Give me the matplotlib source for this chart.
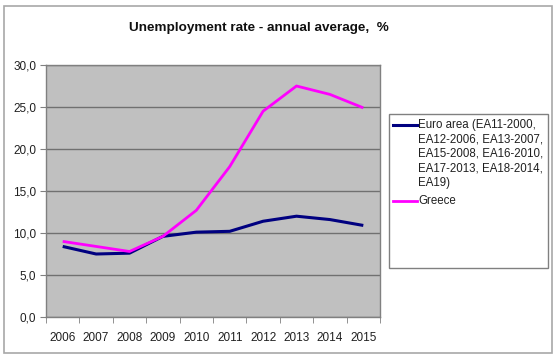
import matplotlib
matplotlib.use("Agg")
import matplotlib.pyplot as plt
import numpy as np
from matplotlib.patches import Rectangle
from matplotlib.lines import Line2D

years = ["2006", "2007", "2008", "2009", "2010", "2011", "2012", "2013", "2014", "2015"]
euro_area = [8.4, 7.5, 7.6, 9.6, 10.1, 10.2, 11.4, 12.0, 11.6, 10.9]
greece = [9.0, 8.4, 7.8, 9.6, 12.7, 17.9, 24.5, 27.5, 26.5, 24.9]
yticks = [0, 5, 10, 15, 20, 25, 30]
ytick_labels = ["0,0", "5,0", "10,0", "15,0", "20,0", "25,0", "30,0"]
euro_label = "Euro area (EA11-2000,\nEA12-2006, EA13-2007,\nEA15-2008, EA16-2010,\nEA17-2013, EA18-2014,\nEA19)"
greece_label = "Greece"
title = "Unemployment rate - annual average,  %"

plt.rcParams['font.family'] = ['Liberation Sans', 'DejaVu Sans']

W, H = 558, 363
fig = plt.figure(figsize=(W / 100, H / 100), dpi=100)

def fx(px):
    return px / W

def fy(py):
    return 1 - py / H

# outer border
fig.patches.append(Rectangle((fx(4), fy(353)), (552 - 4) / W, (353 - 6) / H,
                             transform=fig.transFigure, fill=False,
                             edgecolor="#a8a8a8", linewidth=1.2))

left, right, top, bottom = 46, 380, 65, 317
ax = fig.add_axes([fx(left), fy(bottom), (right - left) / W, (bottom - top) / H])
ax.set_facecolor("#c0c0c0")

x = np.arange(len(years))
euro_color = "#000080"
greece_color = "#ff00ff"
ax.plot(x, euro_area, color=euro_color, linewidth=2.2, solid_capstyle="butt", zorder=3)
ax.plot(x, greece, color=greece_color, linewidth=2.0, solid_capstyle="butt", zorder=3)

ax.set_xlim(-0.5, len(years) - 0.5)
ax.set_ylim(0, 30)
ax.set_yticks(yticks)
ax.set_yticklabels(ytick_labels, fontsize=8.5, color="#202020")
ax.set_xticks(x)
ax.set_xticklabels(years, fontsize=8.5, color="#202020")
ax.set_xticks(np.arange(-0.5, len(years), 1), minor=True)
ax.tick_params(axis="x", which="major", length=0, pad=11)
ax.tick_params(axis="x", which="minor", length=4, color="#808080", direction="out")
ax.tick_params(axis="y", which="major", length=4, color="#808080", direction="out", pad=3)
ax.yaxis.grid(True, color="#707070", linewidth=1.0)
ax.set_axisbelow(True)
for s in ax.spines.values():
    s.set_color("#808080")
    s.set_linewidth(1.0)

fig.text(fx(259), fy(28), title, ha="center", va="center",
         fontsize=9.7, fontweight="bold", color="#101010")

# legend box
lx0, lx1, ly0, ly1 = 389, 548, 114, 268
fig.patches.append(Rectangle((fx(lx0), fy(ly1)), (lx1 - lx0) / W, (ly1 - ly0) / H,
                             transform=fig.transFigure, fill=True, facecolor="white",
                             edgecolor="#808080", linewidth=1.0))
entries = [(euro_label, euro_color, 2.2, 124.5), (greece_label, greece_color, 2.0, 200.5)]
for label, color, lw, y0 in entries:
    fig.add_artist(Line2D([fx(393), fx(417)], [fy(y0), fy(y0)], color=color,
                          linewidth=lw, transform=fig.transFigure))
    for i, line in enumerate(label.split("\n")):
        fig.text(fx(418), fy(y0 + i * 14.7), line, ha="left", va="center",
                 fontsize=8.3, color="#202020")

fig.savefig("out.png", dpi=100)
